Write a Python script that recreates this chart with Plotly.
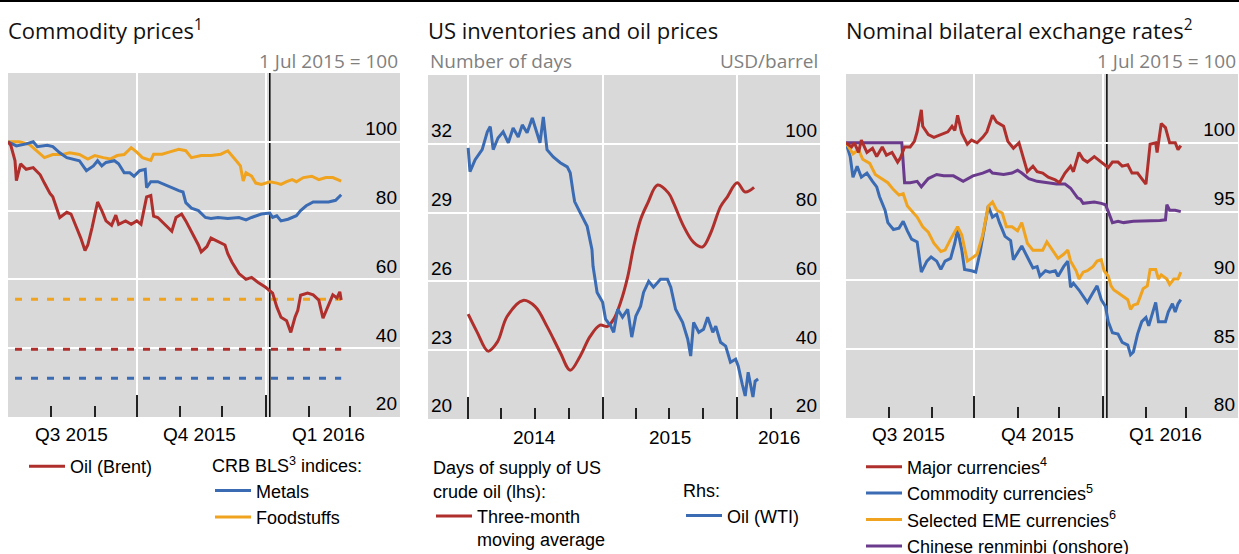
import plotly.graph_objects as go

W, H = 1239, 554

# ---------------- Panel 1: Commodity prices (1 Jul 2015 = 100) ----------------
brent_dates = ["2015-07-01", "2015-07-03", "2015-07-06", "2015-07-07", "2015-07-10", "2015-07-14",
               "2015-07-19", "2015-07-24", "2015-07-27", "2015-07-31", "2015-08-02", "2015-08-05",
               "2015-08-07", "2015-08-12", "2015-08-15", "2015-08-19", "2015-08-22", "2015-08-25",
               "2015-08-27", "2015-08-30", "2015-09-01", "2015-09-03", "2015-09-06", "2015-09-09",
               "2015-09-13", "2015-09-16", "2015-09-18", "2015-09-23", "2015-09-27", "2015-10-01",
               "2015-10-04", "2015-10-08", "2015-10-11", "2015-10-13", "2015-10-16", "2015-10-21",
               "2015-10-26", "2015-10-29", "2015-11-02", "2015-11-05", "2015-11-09", "2015-11-14",
               "2015-11-16", "2015-11-20", "2015-11-23", "2015-11-28", "2015-12-03", "2015-12-05",
               "2015-12-08", "2015-12-13", "2015-12-18", "2015-12-22", "2015-12-27", "2016-01-01",
               "2016-01-06", "2016-01-09", "2016-01-12", "2016-01-16", "2016-01-19", "2016-01-22",
               "2016-01-24", "2016-01-26", "2016-01-31", "2016-02-04", "2016-02-08", "2016-02-11",
               "2016-02-14", "2016-02-18", "2016-02-21", "2016-02-23", "2016-02-24"]
brent_values = [100, 99, 94.5, 88.7, 93.6, 92, 92.5, 90.4, 88, 85, 84, 80, 78, 79.5, 79, 75, 72, 68.4,
                70, 75, 79, 82.5, 80, 77, 75.7, 78.7, 76, 77, 76, 77, 76, 84, 84.4, 78.4, 78, 76,
                74, 78, 79, 77, 74, 70, 68, 69.5, 72, 71, 70, 67.5, 65, 61.7, 60, 60.6, 59, 57.7,
                56, 52, 49, 48, 44.6, 49, 51, 55.4, 56, 55.5, 54, 48.7, 51.7, 55.5, 54.6, 56.4, 54]

metals_dates = ["2015-07-01", "2015-07-07", "2015-07-14", "2015-07-19", "2015-07-22", "2015-07-29",
                "2015-08-02", "2015-08-07", "2015-08-12", "2015-08-16", "2015-08-21", "2015-08-26",
                "2015-08-31", "2015-09-03", "2015-09-06", "2015-09-09", "2015-09-15", "2015-09-18",
                "2015-09-22", "2015-09-26", "2015-09-29", "2015-10-03", "2015-10-07", "2015-10-08",
                "2015-10-11", "2015-10-16", "2015-10-21", "2015-10-26", "2015-10-31", "2015-11-03",
                "2015-11-05", "2015-11-09", "2015-11-14", "2015-11-19", "2015-11-23", "2015-11-28",
                "2015-12-05", "2015-12-13", "2015-12-18", "2015-12-22", "2015-12-29", "2016-01-04",
                "2016-01-06", "2016-01-09", "2016-01-12", "2016-01-17", "2016-01-23", "2016-01-26",
                "2016-01-30", "2016-02-04", "2016-02-10", "2016-02-15", "2016-02-20", "2016-02-24"]
metals_values = [100, 98.8, 99.4, 100, 98.6, 99, 98.6, 96.8, 95.4, 95, 94.5, 91.6, 93, 94.5, 93, 94,
                 94.5, 93.6, 91, 91, 90, 91.6, 92, 86.7, 88.4, 88.4, 87.5, 86.7, 85.8, 85.4, 82.3,
                 80.7, 80, 78, 77.7, 78, 77.7, 78, 77.3, 78, 79, 79.3, 78, 78.5, 77, 77.5, 78.5, 80,
                 81.4, 82.5, 82.5, 82.5, 83, 84.6]

food_dates = ["2015-07-01", "2015-07-09", "2015-07-16", "2015-07-21", "2015-07-27", "2015-08-02",
              "2015-08-09", "2015-08-14", "2015-08-21", "2015-08-27", "2015-09-01", "2015-09-07",
              "2015-09-12", "2015-09-17", "2015-09-22", "2015-09-27", "2015-10-01", "2015-10-05",
              "2015-10-11", "2015-10-13", "2015-10-19", "2015-10-24", "2015-10-31", "2015-11-05",
              "2015-11-09", "2015-11-16", "2015-11-23", "2015-11-30", "2015-12-05", "2015-12-10",
              "2015-12-14", "2015-12-16", "2015-12-18", "2015-12-22", "2015-12-25", "2015-12-29",
              "2016-01-04", "2016-01-09", "2016-01-12", "2016-01-16", "2016-01-20", "2016-01-23",
              "2016-01-28", "2016-02-03", "2016-02-08", "2016-02-13", "2016-02-18", "2016-02-24"]
food_values = [100, 100, 99.3, 97.4, 95.4, 96.3, 96.3, 96.8, 96.3, 95, 96, 95.4, 95, 96, 96.3, 98.3,
               97, 95.4, 94.6, 96.4, 96.4, 97, 97.8, 97.4, 95.4, 96, 96, 96.4, 97.4, 95, 93, 88.6,
               91, 90, 88, 87.6, 88.4, 88, 87.6, 88.4, 89, 88.4, 89.6, 90, 89, 89.6, 89.6, 88.6]

ref_dates = ["2015-07-06", "2016-02-24"]
food_ref = [54.2, 54.2]
brent_ref = [39.7, 39.7]
metals_ref = [31.3, 31.3]

# ---------------- Panel 2: US inventories and oil prices ----------------
inv_dates = ["2014-01-01", "2014-01-25", "2014-02-24", "2014-03-21", "2014-04-17", "2014-05-30",
             "2014-07-02", "2014-08-03", "2014-09-08", "2014-10-05", "2014-11-01", "2014-11-28",
             "2014-12-25", "2015-01-14", "2015-01-31", "2015-02-19", "2015-03-10", "2015-03-26",
             "2015-04-14", "2015-05-03", "2015-05-30", "2015-06-29", "2015-07-13", "2015-08-09",
             "2015-09-05", "2015-09-29", "2015-10-21", "2015-11-17", "2015-12-06", "2016-01-01",
             "2016-01-23", "2016-02-16"]
inv_values = [24.57, 23.8, 22.96, 23.35, 24.48, 25.17, 24.9, 24.04, 22.9, 22.13, 22.74, 23.6,
              24.09, 24.04, 24.35, 25.1, 26.2, 27.5, 28.7, 29.4, 30.2, 29.85, 29.4, 28.4, 27.7,
              27.5, 28.1, 29.26, 29.7, 30.3, 29.9, 30.1]

wti_dates = ["2014-01-01", "2014-01-06", "2014-01-20", "2014-02-08", "2014-02-22", "2014-03-02",
             "2014-03-10", "2014-03-23", "2014-04-06", "2014-04-20", "2014-05-03", "2014-05-17",
             "2014-05-28", "2014-06-10", "2014-06-24", "2014-07-07", "2014-07-15", "2014-07-24",
             "2014-08-03", "2014-08-20", "2014-09-08", "2014-09-27", "2014-10-05", "2014-10-13",
             "2014-10-17", "2014-11-01", "2014-11-20", "2014-12-03", "2014-12-06", "2014-12-17",
             "2015-01-01", "2015-01-09", "2015-01-23", "2015-01-31", "2015-02-11", "2015-02-24",
             "2015-03-10", "2015-03-21", "2015-04-01", "2015-04-14", "2015-04-22", "2015-05-06",
             "2015-05-19", "2015-06-07", "2015-06-26", "2015-07-05", "2015-07-18", "2015-08-06",
             "2015-08-20", "2015-08-28", "2015-09-05", "2015-09-19", "2015-10-02", "2015-10-13",
             "2015-10-27", "2015-11-04", "2015-11-17", "2015-12-01", "2015-12-14", "2015-12-28",
             "2016-01-04", "2016-01-15", "2016-01-23", "2016-01-31", "2016-02-13", "2016-02-19",
             "2016-02-27"]
wti_values = [98.8, 91.9, 95.4, 98.3, 103.5, 105, 98.3, 101.7, 103.5, 100.3, 104.6, 102, 105.5,
              103.2, 107.5, 103.2, 100.3, 107.8, 98.3, 96.2, 94.5, 93.3, 91.6, 85.8, 83.2, 80, 76,
              69.3, 64.4, 56.8, 53.9, 49, 47, 45.2, 51.9, 49.6, 51.9, 43.8, 49.9, 52.8, 56.8, 60,
              58.3, 60.6, 60.6, 58.3, 51.9, 48.1, 43.2, 38.3, 48.1, 45.2, 46.1, 49.6, 45.2, 47,
              42.3, 41.2, 36.5, 37.4, 35.4, 30.1, 26.7, 33.6, 26.4, 31, 31.6]

# ---------------- Panel 3: Nominal bilateral exchange rates (1 Jul 2015 = 100) ----------------
major_dates = ["2015-07-01", "2015-07-05", "2015-07-07", "2015-07-10", "2015-07-12", "2015-07-16",
               "2015-07-20", "2015-07-23", "2015-07-27", "2015-07-30", "2015-08-03", "2015-08-07",
               "2015-08-09", "2015-08-12", "2015-08-16", "2015-08-19", "2015-08-21", "2015-08-24",
               "2015-08-25", "2015-08-29", "2015-09-02", "2015-09-07", "2015-09-12", "2015-09-15",
               "2015-09-17", "2015-09-19", "2015-09-22", "2015-09-26", "2015-09-29", "2015-10-03",
               "2015-10-07", "2015-10-10", "2015-10-14", "2015-10-17", "2015-10-22", "2015-10-25",
               "2015-10-29", "2015-11-02", "2015-11-05", "2015-11-08", "2015-11-12", "2015-11-15",
               "2015-11-19", "2015-11-23", "2015-11-28", "2015-12-01", "2015-12-05", "2015-12-09",
               "2015-12-11", "2015-12-15", "2015-12-18", "2015-12-21", "2015-12-26", "2015-12-31",
               "2016-01-05", "2016-01-08", "2016-01-12", "2016-01-15", "2016-01-19", "2016-01-22",
               "2016-01-26", "2016-01-29", "2016-02-01", "2016-02-04", "2016-02-08", "2016-02-09",
               "2016-02-12", "2016-02-15", "2016-02-18", "2016-02-22", "2016-02-24", "2016-02-26"]
major_values = [100, 99.7, 100, 99.3, 100.2, 99.3, 99.6, 99, 99.7, 99.1, 99.3, 98.6, 98.9, 99.7,
                99.7, 100.1, 100.8, 102.4, 101.2, 100.6, 100.4, 100.6, 100.8, 101.2, 100.9, 102,
                100.7, 99.9, 100.2, 100, 100.4, 100.8, 102, 101.5, 101.2, 100.1, 99.6, 100, 98.9,
                97.9, 98.3, 97.9, 97.8, 97.5, 97.3, 97.1, 97.8, 98.3, 97.9, 99.3, 98.8, 98.6, 99,
                98.6, 98.2, 98.6, 98.6, 98.3, 98.4, 97.8, 97.8, 97.4, 97, 99.9, 100, 99.3, 101.4,
                101.1, 100, 100, 99.5, 99.8]

commod_dates = ["2015-07-01", "2015-07-04", "2015-07-06", "2015-07-09", "2015-07-12", "2015-07-16",
                "2015-07-20", "2015-07-23", "2015-07-25", "2015-07-29", "2015-07-31", "2015-08-04",
                "2015-08-08", "2015-08-11", "2015-08-14", "2015-08-17", "2015-08-21", "2015-08-24",
                "2015-08-28", "2015-08-31", "2015-09-04", "2015-09-07", "2015-09-10", "2015-09-14",
                "2015-09-17", "2015-09-19", "2015-09-22", "2015-09-24", "2015-09-29", "2015-10-02",
                "2015-10-05", "2015-10-09", "2015-10-11", "2015-10-14", "2015-10-17", "2015-10-19",
                "2015-10-23", "2015-10-27", "2015-10-29", "2015-11-01", "2015-11-04", "2015-11-08",
                "2015-11-12", "2015-11-15", "2015-11-17", "2015-11-21", "2015-11-24", "2015-11-28",
                "2015-11-30", "2015-12-04", "2015-12-07", "2015-12-09", "2015-12-11", "2015-12-15",
                "2015-12-18", "2015-12-21", "2015-12-25", "2015-12-28", "2015-12-31", "2016-01-03",
                "2016-01-05", "2016-01-08", "2016-01-12", "2016-01-15", "2016-01-19", "2016-01-21",
                "2016-01-23", "2016-01-26", "2016-01-29", "2016-02-01", "2016-02-03", "2016-02-06",
                "2016-02-08", "2016-02-10", "2016-02-12", "2016-02-15", "2016-02-17", "2016-02-20",
                "2016-02-22", "2016-02-24", "2016-02-26"]
commod_values = [100, 99, 97.5, 98.3, 97.5, 97.8, 97.2, 96.8, 96.1, 95.1, 94.2, 93.7, 93.8, 94.3,
                 93.6, 93, 92.8, 90.6, 91.4, 91.7, 91.4, 90.8, 91.4, 91.6, 92.7, 93.7, 92.2, 90.8,
                 90.7, 90.6, 92, 94.4, 95.4, 94.6, 94.8, 94.2, 93.2, 92.9, 91.5, 92, 92.5, 91.7,
                 90.9, 91, 90.3, 90.7, 90.6, 90.7, 90.3, 91, 91.4, 89.5, 89.8, 89.3, 88.8, 88.4,
                 89.1, 89.6, 88.6, 88.1, 87, 86.2, 86.1, 85.5, 85.3, 84.6, 84.8, 86.1, 87, 87.3,
                 86.7, 87.8, 88.4, 87, 87, 87, 87.7, 88.3, 87.7, 88.3, 88.6]

eme_dates = ["2015-07-01", "2015-07-06", "2015-07-10", "2015-07-13", "2015-07-18", "2015-07-22",
             "2015-07-25", "2015-07-31", "2015-08-04", "2015-08-08", "2015-08-11", "2015-08-14",
             "2015-08-21", "2015-08-25", "2015-08-29", "2015-09-02", "2015-09-07", "2015-09-10",
             "2015-09-14", "2015-09-17", "2015-09-19", "2015-09-22", "2015-09-24", "2015-09-26",
             "2015-09-29", "2015-10-03", "2015-10-07", "2015-10-09", "2015-10-11", "2015-10-14",
             "2015-10-17", "2015-10-21", "2015-10-24", "2015-10-28", "2015-11-01", "2015-11-04",
             "2015-11-08", "2015-11-12", "2015-11-15", "2015-11-19", "2015-11-22", "2015-11-26",
             "2015-11-30", "2015-12-04", "2015-12-07", "2015-12-09", "2015-12-13", "2015-12-15",
             "2015-12-18", "2015-12-21", "2015-12-25", "2015-12-28", "2015-12-31", "2016-01-02",
             "2016-01-05", "2016-01-07", "2016-01-09", "2016-01-12", "2016-01-16", "2016-01-19",
             "2016-01-21", "2016-01-23", "2016-01-26", "2016-01-28", "2016-01-30", "2016-02-02",
             "2016-02-04", "2016-02-08", "2016-02-10", "2016-02-12", "2016-02-16", "2016-02-18",
             "2016-02-21", "2016-02-24", "2016-02-26"]
eme_values = [100, 99.2, 99.5, 98.8, 98.5, 97.7, 97.5, 97.1, 96.6, 96.2, 96.3, 95.4, 94.6, 93.9,
              93.5, 92.7, 92.1, 92.2, 93, 93.6, 93.9, 93.3, 92.2, 91.4, 91.6, 91.9, 93.3, 94.4,
              95.4, 95.7, 95.1, 94.9, 93.9, 93.9, 93.6, 94.2, 92.7, 92.2, 92.2, 92.2, 92.8, 92.2,
              91.6, 91.9, 92.2, 91.4, 90.7, 90.1, 90.6, 90.7, 91, 91.4, 91.5, 90.7, 90.3, 89.6,
              89.3, 89.1, 88.8, 88.6, 87.9, 88.2, 88.3, 88.8, 89.4, 89.6, 90.8, 90.8, 90.1, 90.4,
              90.1, 89.7, 90.1, 90.1, 90.6]

rmb_dates = ["2015-07-01", "2015-08-10", "2015-08-12", "2015-08-16", "2015-08-21", "2015-08-24",
             "2015-08-29", "2015-09-04", "2015-09-09", "2015-09-16", "2015-09-23", "2015-09-30",
             "2015-10-07", "2015-10-12", "2015-10-14", "2015-10-22", "2015-10-28", "2015-11-01",
             "2015-11-04", "2015-11-09", "2015-11-15", "2015-11-22", "2015-11-29", "2015-12-05",
             "2015-12-09", "2015-12-14", "2015-12-16", "2015-12-18", "2015-12-26", "2015-12-31",
             "2016-01-03", "2016-01-05", "2016-01-08", "2016-01-12", "2016-01-16", "2016-01-23",
             "2016-02-02", "2016-02-11", "2016-02-15", "2016-02-16", "2016-02-18", "2016-02-22",
             "2016-02-26"]
rmb_values = [100, 100, 97.1, 97.1, 97.2, 96.8, 97.4, 97.7, 97.6, 97.6, 97.2, 97.6, 97.8, 98,
              97.8, 97.7, 97.8, 98, 97.8, 97.4, 97.2, 97.1, 97, 97, 96.7, 96, 95.9, 95.6, 95.7,
              95.6, 95.5, 95, 94.2, 94.3, 94.2, 94.3, 94.3, 94.35, 94.4, 95.5, 95.1, 95.1, 95]

# axis tick positions / labels
q_major = ["2015-07-01", "2015-10-01", "2016-01-01"]
q_minor = ["2015-08-01", "2015-09-01", "2015-11-01", "2015-12-01", "2016-02-01", "2016-03-01"]
q_label_dates = ["2015-08-15", "2015-11-15", "2016-02-15"]
q_labels = ["Q3 2015", "Q4 2015", "Q1 2016"]
y_major = ["2014-01-01", "2015-01-01", "2016-01-01"]
y_minor = ["2014-04-01", "2014-07-01", "2014-10-01", "2015-04-01", "2015-07-01", "2015-10-01",
           "2016-04-01"]
y_label_dates = ["2014-06-30", "2015-07-03", "2016-04-25"]
y_labels = ["2014", "2015", "2016"]
event_date = "2016-01-04"

RED = "#AF2F2C"
BLUE = "#3A6BB3"
ORANGE = "#F0A31F"
PURPLE = "#6A3A8D"
BG = "#D9D9D9"
ARIAL = "Arial, Liberation Sans, sans-serif"
OPEN = "Open Sans, Segoe UI, sans-serif"
LEG_SIZE = 18


def px_x(p):
    return p / W


def px_y(p):
    return 1 - p / H


fig = go.Figure()

# Panel 1
fig.add_trace(go.Scatter(x=ref_dates, y=food_ref, mode="lines", showlegend=False,
                         line=dict(color=ORANGE, width=3, dash="7px,9px"), xaxis="x", yaxis="y"))
fig.add_trace(go.Scatter(x=ref_dates, y=brent_ref, mode="lines", showlegend=False,
                         line=dict(color=RED, width=3, dash="7px,9px"), xaxis="x", yaxis="y"))
fig.add_trace(go.Scatter(x=ref_dates, y=metals_ref, mode="lines", showlegend=False,
                         line=dict(color=BLUE, width=3, dash="7px,9px"), xaxis="x", yaxis="y"))
fig.add_trace(go.Scatter(x=food_dates, y=food_values, mode="lines", name="Foodstuffs",
                         line=dict(color=ORANGE, width=3), xaxis="x", yaxis="y",
                         legend="legend2", legendrank=2))
fig.add_trace(go.Scatter(x=metals_dates, y=metals_values, mode="lines", name="Metals",
                         line=dict(color=BLUE, width=3), xaxis="x", yaxis="y",
                         legend="legend2", legendrank=1))
fig.add_trace(go.Scatter(x=brent_dates, y=brent_values, mode="lines", name="Oil (Brent)",
                         line=dict(color=RED, width=3), xaxis="x", yaxis="y", legend="legend"))

# Panel 2
fig.add_trace(go.Scatter(x=inv_dates, y=inv_values, mode="lines", name="Three-month<br>moving average",
                         line=dict(color=RED, width=3, shape="spline", smoothing=1.0),
                         xaxis="x2", yaxis="y2", legend="legend3"))
fig.add_trace(go.Scatter(x=wti_dates, y=wti_values, mode="lines", name="Oil (WTI)",
                         line=dict(color=BLUE, width=3), xaxis="x2", yaxis="y3", legend="legend4"))

# Panel 3
fig.add_trace(go.Scatter(x=rmb_dates, y=rmb_values, mode="lines", name="Chinese renminbi (onshore)",
                         line=dict(color=PURPLE, width=3), xaxis="x3", yaxis="y4",
                         legend="legend5", legendrank=4))
fig.add_trace(go.Scatter(x=commod_dates, y=commod_values, mode="lines",
                         name="Commodity currencies<sup>5</sup>",
                         line=dict(color=BLUE, width=3), xaxis="x3", yaxis="y4",
                         legend="legend5", legendrank=2))
fig.add_trace(go.Scatter(x=eme_dates, y=eme_values, mode="lines",
                         name="Selected EME currencies<sup>6</sup>",
                         line=dict(color=ORANGE, width=3), xaxis="x3", yaxis="y4",
                         legend="legend5", legendrank=3))
fig.add_trace(go.Scatter(x=major_dates, y=major_values, mode="lines",
                         name="Major currencies<sup>4</sup>",
                         line=dict(color=RED, width=3), xaxis="x3", yaxis="y4",
                         legend="legend5", legendrank=1))


def xaxis_common(domain, rng, major, minor, anchor):
    return dict(domain=domain, range=rng, type="date", anchor=anchor,
                tickmode="array", tickvals=major, showticklabels=False,
                ticks="inside", ticklen=22, tickwidth=1.5, tickcolor="#222",
                showgrid=True, gridcolor="white", gridwidth=1.5,
                zeroline=False, showline=False, fixedrange=True,
                minor=dict(tickmode="array", tickvals=minor, ticks="inside", ticklen=11,
                           tickwidth=1.5, tickcolor="#222", showgrid=False))


def yaxis_common(domain, rng, vals, side, anchor, grid=True, overlaying=None):
    d = dict(domain=domain, range=rng, anchor=anchor, side=side,
             tickmode="array", tickvals=vals, ticks="",
             ticklabelposition="inside top",
             tickfont=dict(family=ARIAL, size=19, color="black"),
             showgrid=grid, gridcolor="white", gridwidth=1.5,
             zeroline=False, showline=False, fixedrange=True)
    if overlaying:
        d["overlaying"] = overlaying
    return d


dom1 = [px_y(417), px_y(73)]
dom2 = [px_y(419), px_y(75)]
dom3 = [px_y(418), px_y(74)]

legend_common = dict(bgcolor="rgba(0,0,0,0)", font=dict(family=ARIAL, size=LEG_SIZE, color="black"),
                     xanchor="left", yanchor="top", tracegroupgap=0, valign="top", itemwidth=36,
                     itemclick=False, itemdoubleclick=False)
title_font = dict(family=ARIAL, size=LEG_SIZE, color="black")

fig.update_layout(
    width=W, height=H, autosize=False,
    margin=dict(l=0, r=0, t=0, b=0, pad=0, autoexpand=False),
    paper_bgcolor="white", plot_bgcolor=BG,
    showlegend=True,
    xaxis=xaxis_common([px_x(8), px_x(400)], ["2015-07-01", "2016-04-06"], q_major, q_minor, "y"),
    yaxis=yaxis_common(dom1, [20, 120], [20, 40, 60, 80, 100], "right", "x"),
    xaxis2=xaxis_common([px_x(428), px_x(820)], ["2013-09-14", "2016-08-13"], y_major, y_minor, "y2"),
    yaxis2=yaxis_common(dom2, [20, 35], [20, 23, 26, 29, 32], "left", "x2"),
    yaxis3=yaxis_common(dom2, [20, 120], [20, 40, 60, 80, 100], "right", "x2", grid=False,
                        overlaying="y2"),
    xaxis3=xaxis_common([px_x(846), px_x(1238)], ["2015-07-01", "2016-04-07"], q_major, q_minor, "y4"),
    yaxis4=yaxis_common(dom3, [80, 105], [80, 85, 90, 95, 100], "right", "x3"),
    legend=dict(legend_common, x=px_x(24), y=px_y(448)),
    legend2=dict(legend_common, x=px_x(210), y=px_y(449),
                 title=dict(text="CRB BLS<sup>3</sup> indices:", font=title_font)),
    legend3=dict(legend_common, x=px_x(431), y=px_y(451),
                 title=dict(text="Days of supply of US<br>crude oil (lhs):", font=title_font)),
    legend4=dict(legend_common, x=px_x(681), y=px_y(474),
                 title=dict(text="Rhs:", font=title_font)),
    legend5=dict(legend_common, x=px_x(861), y=px_y(448.5)),
)

annotations = []
# Titles
for x, txt in [(8, "Commodity prices<sup>1</sup>"), (428, "US inventories and oil prices"),
               (846, "Nominal bilateral exchange rates<sup>2</sup>")]:
    annotations.append(dict(xref="paper", yref="paper", x=px_x(x - 2), y=px_y(30), xanchor="left",
                            yanchor="middle", text=txt, showarrow=False,
                            font=dict(family=OPEN, size=22, color="#111")))
# Unit labels
for x, anc, txt in [(400, "right", "1 Jul 2015 = 100"), (428, "left", "Number of days"),
                    (820, "right", "USD/barrel"), (1238, "right", "1 Jul 2015 = 100")]:
    annotations.append(dict(xref="paper", yref="paper", x=px_x(x), y=px_y(61), xanchor=anc,
                            yanchor="middle", text=txt, showarrow=False,
                            font=dict(family=OPEN, size=19, color="#808080")))
# X tick labels
for xr, dates, labels, ypix in [("x", q_label_dates, q_labels, 435), ("x3", q_label_dates, q_labels, 435),
                                ("x2", y_label_dates, y_labels, 437)]:
    for d, lab in zip(dates, labels):
        annotations.append(dict(xref=xr, yref="paper", x=d, y=px_y(ypix), xanchor="center",
                                yanchor="middle", text=lab, showarrow=False,
                                font=dict(family=ARIAL, size=19, color="black")))
fig.update_layout(annotations=annotations)

shapes = [
    dict(type="line", xref="paper", yref="paper", x0=0, x1=1, y0=px_y(1), y1=px_y(1),
         line=dict(color="black", width=2)),
    dict(type="line", xref="x domain", yref="y", x0=0, x1=1, y0=100, y1=100, layer="below",
         line=dict(color="black", width=1.5)),
    dict(type="line", xref="x", yref="y domain", x0=event_date, x1=event_date, y0=0, y1=1,
         layer="below", line=dict(color="black", width=1.5)),
    dict(type="line", xref="x3 domain", yref="y4", x0=0, x1=1, y0=100, y1=100, layer="below",
         line=dict(color="black", width=1.5)),
    dict(type="line", xref="x3", yref="y4 domain", x0=event_date, x1=event_date, y0=0, y1=1,
         layer="below", line=dict(color="black", width=1.5)),
]
fig.update_layout(shapes=shapes)

fig.write_html("out.html", config={"displayModeBar": False},
               post_script="document.body.style.margin='0px';"
                           "document.body.style.overflow='hidden';")
